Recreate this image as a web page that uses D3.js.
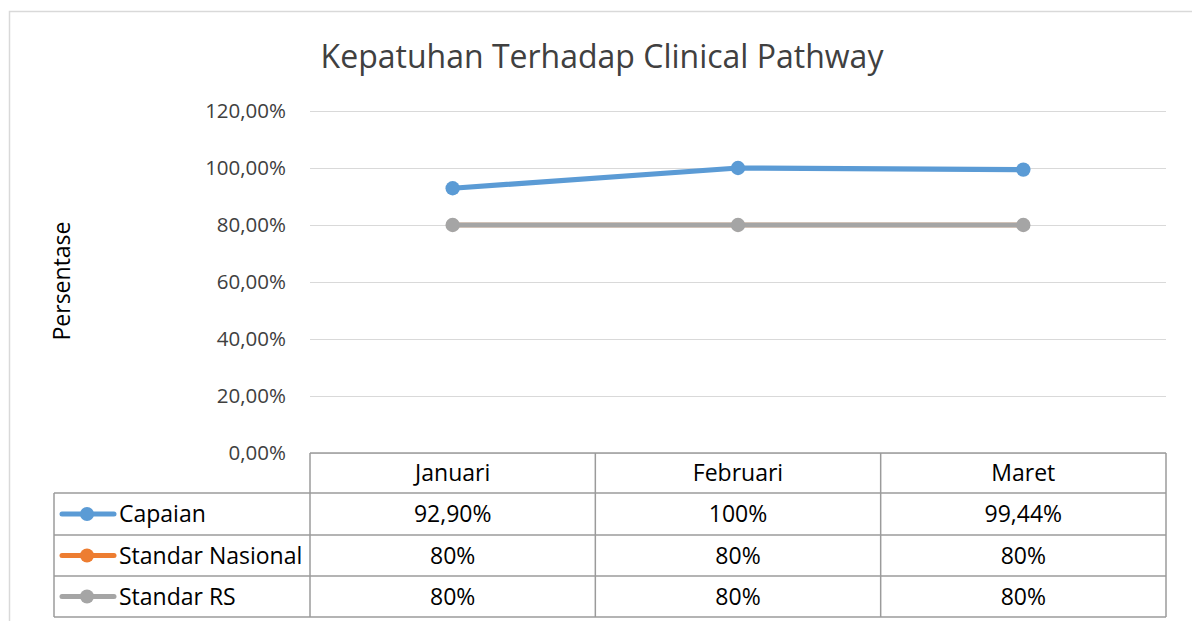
<!DOCTYPE html>
<html><head><meta charset="utf-8">
<script src="https://cdn.jsdelivr.net/npm/d3@7"></script>
<style>body{margin:0;background:#fff;}svg{display:block;font-family:"Open Sans",sans-serif;}</style>
</head><body>
<svg id="c" width="1192" height="621"></svg>
<script>
const categories = ["Januari", "Februari", "Maret"];
const seriesNames = ["Capaian", "Standar Nasional", "Standar RS"];
const capaian = [92.90, 100, 99.44];
const standarNasional = [80, 80, 80];
const standarRS = [80, 80, 80];
const tableLabels = [["92,90%", "100%", "99,44%"], ["80%", "80%", "80%"], ["80%", "80%", "80%"]];
const yTicks = [0, 20, 40, 60, 80, 100, 120];
const colors = ["#5B9BD5", "#ED7D31", "#A5A5A5"];

(function () {
const svg = d3.select("#c");
const W = 1192, H = 621;
const pLeft = 310, pRight = 1166, pTop = 111, pBottom = 453;
const tFont = 23;
const x = d3.scaleBand().domain(categories).range([pLeft, pRight]);
const y = d3.scaleLinear().domain([0, 120]).range([pBottom, pTop]);

svg.append("rect").attr("x", 9.5).attr("y", 11.5).attr("width", W).attr("height", H)
  .attr("fill", "none").attr("stroke", "#D9D9D9").attr("stroke-width", 1.5);

svg.append("text").attr("x", 602).attr("y", 68).attr("text-anchor", "middle")
  .attr("font-size", 32).attr("fill", "#404040").text("Kepatuhan Terhadap Clinical Pathway");

const yAxis = d3.axisLeft(y).tickValues(yTicks).tickSize(-(pRight - pLeft)).tickPadding(24)
  .tickFormat(d => d3.format(".2f")(d).replace(".", ",") + "%");
const ga = svg.append("g").attr("transform", `translate(${pLeft},0)`).call(yAxis);
ga.select(".domain").remove();
ga.selectAll(".tick line").attr("stroke", "#D9D9D9").attr("stroke-width", 1.2);
ga.selectAll(".tick text").attr("font-size", 20.5).attr("fill", "#404040").attr("font-family", "Open Sans");

svg.append("text").attr("transform", "translate(70,281) rotate(-90)").attr("text-anchor", "middle")
  .attr("font-size", tFont).attr("fill", "#000").text("Persentase");

const series = [capaian, standarNasional, standarRS];
const line = d3.line().x((d, i) => x(categories[i]) + x.bandwidth() / 2).y(d => y(d));
series.forEach((s, k) => {
  const g = svg.append("g");
  g.append("path").datum(s).attr("d", line).attr("fill", "none")
    .attr("stroke", colors[k]).attr("stroke-width", k === 1 ? 4.5 : 5.2).attr("stroke-linecap", "round");
  g.selectAll("circle").data(s).join("circle")
    .attr("cx", (d, i) => x(categories[i]) + x.bandwidth() / 2).attr("cy", d => y(d))
    .attr("r", k === 1 ? 6.5 : 7.2).attr("fill", colors[k]);
});

const tblLeft = 54, rowH = [40, 42, 41, 41];
const rowY = [453];
rowH.forEach(h => rowY.push(rowY[rowY.length - 1] + h));
const tg = svg.append("g");
const tStroke = "#9B9B9B";
tg.append("line").attr("x1", pLeft).attr("x2", pRight).attr("y1", rowY[0]).attr("y2", rowY[0]).attr("stroke", tStroke).attr("stroke-width", 1.5);
for (let r = 1; r <= 4; r++) {
  tg.append("line").attr("x1", tblLeft).attr("x2", pRight).attr("y1", rowY[r]).attr("y2", rowY[r]).attr("stroke", tStroke).attr("stroke-width", 1.5);
}
tg.append("line").attr("x1", tblLeft).attr("x2", tblLeft).attr("y1", rowY[1]).attr("y2", rowY[4]).attr("stroke", tStroke).attr("stroke-width", 1.5);
[...categories.map(c => x(c)), pRight].forEach(xx => {
  tg.append("line").attr("x1", xx).attr("x2", xx).attr("y1", rowY[0]).attr("y2", rowY[4]).attr("stroke", tStroke).attr("stroke-width", 1.5);
});
categories.forEach(c => {
  tg.append("text").attr("x", x(c) + x.bandwidth() / 2).attr("y", (rowY[0] + rowY[1]) / 2)
    .attr("dy", "0.35em").attr("text-anchor", "middle").attr("font-size", tFont).attr("fill", "#000").text(c);
});
seriesNames.forEach((n, k) => {
  const cy = (rowY[k + 1] + rowY[k + 2]) / 2;
  tg.append("line").attr("x1", 62).attr("x2", 114).attr("y1", cy).attr("y2", cy)
    .attr("stroke", colors[k]).attr("stroke-width", 5).attr("stroke-linecap", "round");
  tg.append("circle").attr("cx", 87).attr("cy", cy).attr("r", 7).attr("fill", colors[k]);
  tg.append("text").attr("x", 119).attr("y", cy).attr("dy", "0.35em").attr("font-size", tFont).attr("fill", "#000").text(n);
  categories.forEach((c, i) => {
    tg.append("text").attr("x", x(c) + x.bandwidth() / 2).attr("y", cy).attr("dy", "0.35em")
      .attr("text-anchor", "middle").attr("font-size", tFont).attr("fill", "#000").text(tableLabels[k][i]);
  });
});
})();
</script>
</body></html>
